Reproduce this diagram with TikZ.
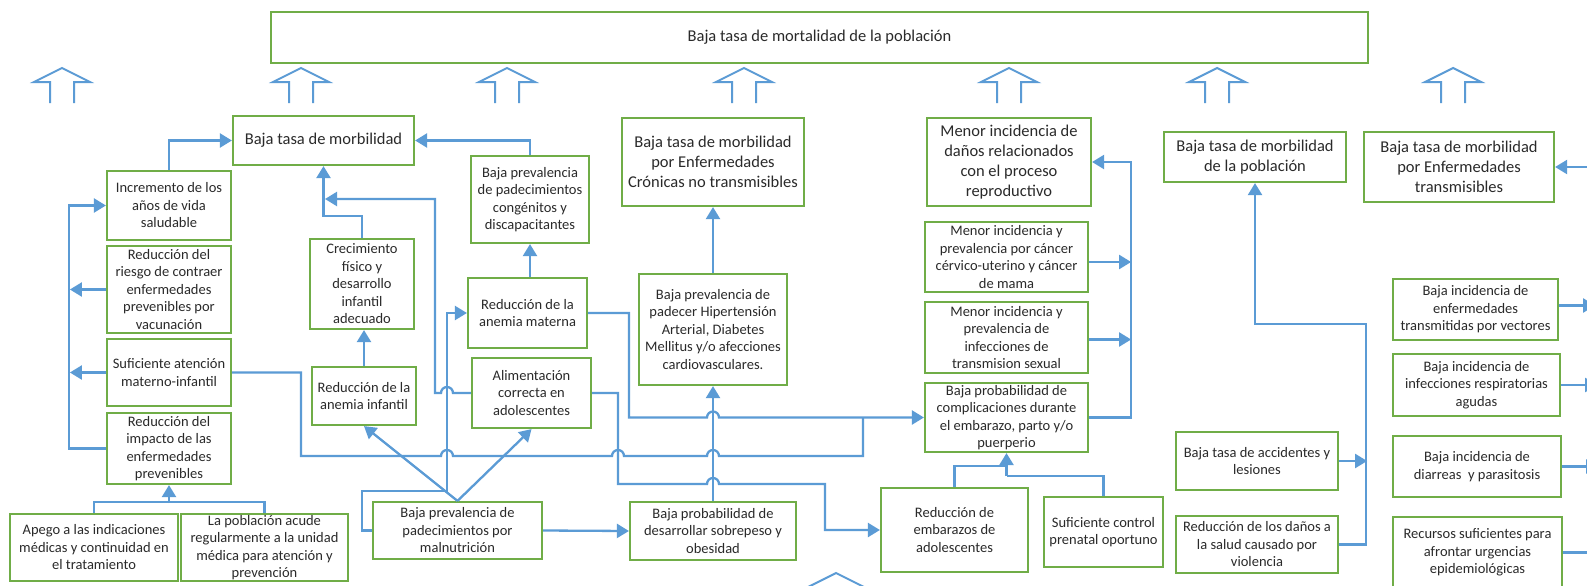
\documentclass[tikz,border=0pt]{standalone}
\usepackage{fontspec}
\setmainfont{Carlito}
\usetikzlibrary{arrows.meta}
\definecolor{bgreen}{HTML}{70AD47}
\definecolor{ablue}{HTML}{5B9BD5}
\definecolor{tgray}{HTML}{2A2A2A}
\newcommand\bx[7][]{\node[box,#1,minimum width={#5-#3},minimum height={#6-#4}] (#2) at ({(#3+#5)/2},{(#4+#6)/2}) {#7};}
\newcommand\hollowup[2]{\draw[hollow] (#1-12,#2+35) -- (#1-12,#2+14) -- (#1-28,#2+14) -- (#1,#2) -- (#1+28,#2+14) -- (#1+12,#2+14) -- (#1+12,#2+35);}
\begin{document}
\begin{tikzpicture}[x=1pt,y=-1pt,
  box/.style={draw=bgreen,line width=2.2pt,align=center,inner sep=0pt,text=tgray,font=\fontsize{14.5}{17.5}\selectfont},
  tt/.style={font=\fontsize{16.5}{20}\selectfont},
  line/.style={draw=ablue,line width=2.3pt},
  arr/.style={line,-{Triangle[length=12pt,width=14pt]}},
  hollow/.style={draw=ablue,line width=2pt,line join=miter}]
\fill[white] (0,0) rectangle (1587,586);
\useasboundingbox (0,0) rectangle (1587,586);

% hollow arrows
\foreach \ax in {62,301,507,744,1009,1217,1453} {\hollowup{\ax}{68}}
\hollowup{836}{573}

% boxes
\bx[font=\fontsize{16.5}{18}\selectfont]{top}{271}{12}{1368}{63}{Baja tasa de mortalidad de la población}
\bx[tt]{morb}{233}{116}{414}{165}{Baja tasa de morbilidad}
\bx[tt]{cron}{622}{118}{804}{206}{Baja tasa de morbilidad\\por Enfermedades\\Crónicas no transmisibles}
\bx[tt]{danos}{927}{118}{1091}{206}{Menor incidencia de\\daños relacionados\\con el proceso\\reproductivo}
\bx[tt]{pobl}{1164}{132}{1346}{182}{Baja tasa de morbilidad\\de la población}
\bx[tt]{transm}{1364}{132}{1554}{202}{Baja tasa de morbilidad\\por Enfermedades\\transmisibles}

\bx{increm}{107}{171}{231}{240}{Incremento de los\\años de vida\\saludable}
\bx{riesgo}{107}{246}{231}{333}{Reducción del\\riesgo de contraer\\enfermedades\\prevenibles por\\vacunación}
\bx{sufic}{107}{339}{231}{406}{Suficiente atención\\materno-infantil}
\bx{impacto}{107}{413}{231}{484}{Reducción del\\impacto de las\\enfermedades\\prevenibles}
\bx{apego}{10}{514}{178}{581}{Apego a las indicaciones\\médicas y continuidad en\\el tratamiento}
\bx{acude}{181}{514}{348}{581}{La población acude\\regularmente a la unidad\\médica para atención y\\prevención}
\bx{crec}{310}{239}{414}{329}{Crecimiento\\físico y\\desarrollo\\infantil\\adecuado}
\bx{aninf}{312}{367}{416}{425}{Reducción de la\\anemia infantil}
\bx{congen}{471}{156}{589}{243}{Baja prevalencia\\de padecimientos\\congénitos y\\discapacitantes}
\bx{anmat}{468}{278}{587}{348}{Reducción de la\\anemia materna}
\bx{alim}{472}{358}{591}{428}{Alimentación\\correcta en\\adolescentes}
\bx{malnut}{373}{502}{542}{559}{Baja prevalencia de\\padecimientos por\\malnutrición}
\bx{hiper}{639}{274}{787}{385}{Baja prevalencia de\\padecer Hipertensión\\Arterial, Diabetes\\Mellitus y/o afecciones\\cardiovasculares.}
\bx{sobre}{630}{502}{796}{560}{Baja probabilidad de\\desarrollar sobrepeso y\\obesidad}
\bx{cancer}{925}{222}{1088}{292}{Menor incidencia y\\prevalencia por cáncer\\cérvico-uterino y cáncer\\de mama}
\bx{its}{925}{302}{1088}{373}{Menor incidencia y\\prevalencia de\\infecciones de\\transmision sexual}
\bx{compl}{925}{383}{1088}{452}{Baja probabilidad de\\complicaciones durante\\el embarazo, parto y/o\\puerperio}
\bx{embar}{881}{488}{1028}{572}{Reducción de\\embarazos de\\adolescentes}
\bx{prenat}{1044}{497}{1163}{567}{Suficiente control\\prenatal oportuno}
\bx{accid}{1176}{432}{1338}{490}{Baja tasa de accidentes y\\lesiones}
\bx{viol}{1176}{516}{1338}{573}{Reducción de los daños a\\la salud causado por\\violencia}
\bx{vect}{1393}{279}{1558}{340}{Baja incidencia de\\enfermedades\\transmitidas por vectores}
\bx{resp}{1393}{354}{1560}{416}{Baja incidencia de\\infecciones respiratorias\\agudas}
\bx{diarr}{1393}{436}{1561}{497}{Baja incidencia de\\diarreas\ \ y parasitosis}
\bx{recur}{1393}{517}{1562}{588}{Recursos suficientes para\\afrontar urgencias\\epidemiológicas}

% coordinates
\coordinate (jimp) at (169,503);
\coordinate (jmorb) at (325,199);
\coordinate (jcomp) at (1006.5,476);
\coordinate (edgeT) at (1592,167);

% left part
\draw[arr] (impacto.west) -- (69,448.5) |- (increm.west);
\draw[arr] (riesgo.west) -- ++(-36,0);
\draw[arr] (sufic.west) -- ++(-36,0);
\draw[line] (apego.north) -- ++(0,-11) -| (acude.north);
\draw[arr] (jimp) -- (impacto.south);
\draw[arr] (increm.north) |- (morb.west);
\draw[arr] (crec.north) -- ++(0,-22) -| (morb.south);
\draw[arr] (alim.west) -- (453,393) arc[start angle=0,end angle=180,radius=6pt] -- (435,393) -- (435,199) -- (jmorb);
\draw[arr] (congen.north) |- (morb.east);
\draw[arr] (congen.south |- anmat.north) -- (congen.south);
\draw[arr] (aninf.north) -- (aninf.north |- crec.south);
\draw[arr] (malnut.west) -- (362,530.5) -- (362,491) -- (447,491) -- (447,313) -- (anmat.west);
\draw[arr] (malnut.north) -- (aninf.south);
\draw[arr] (malnut.north) -- (alim.south);
\draw[arr] (malnut.east) -- (sobre.west);
\draw[arr] (sobre.north) -- (hiper.south);
\draw[arr] (hiper.north) -- (cron.south);

% long lines with hops
\draw[line] (sufic.east) -- (301,372.5) -- (301,456) -- (441,456) arc[start angle=180,end angle=0,radius=6pt]
  -- (612,456) arc[start angle=180,end angle=0,radius=6pt]
  -- (707,456) arc[start angle=180,end angle=0,radius=6pt] -- (863,456) -- (863,417.5);
\draw[arr] (anmat.east) -- (629,313) -- (629,417.5) -- (707,417.5) arc[start angle=180,end angle=0,radius=6pt] -- (compl.west);
\draw[arr] (alim.east) -- (618,393) -- (618,484) -- (707,484) arc[start angle=180,end angle=0,radius=6pt] -- (825,484) |- (embar.west);

% reproductive part
\draw[line] (embar.north) |- (jcomp |- 0,466);
\draw[line] (prenat.north) |- (jcomp);
\draw[arr] (jcomp) -- (compl.south);
\draw[arr] (compl.east) -- (1131,417.5) |- (danos.east);
\draw[arr] ([yshift=-5pt]cancer.east) -- ++(42,0);
\draw[arr] ([yshift=-2pt]its.east) -- ++(42,0);

% right part
\draw[arr] (viol.east) -- (1366,544.5) -- (1366,324) -| (pobl.south);
\draw[arr] (accid.east) -- ++(28,0);
\draw[arr] (edgeT) -- (transm.east);
\draw[arr] ([yshift=4pt]vect.east) -- ++(36,0);
\draw[arr] (resp.east) -- ++(36,0);
\draw[arr] (diarr.east) -- ++(36,0);
\draw[line] (recur.east) -- ++(36,0);
\end{tikzpicture}
\end{document}
